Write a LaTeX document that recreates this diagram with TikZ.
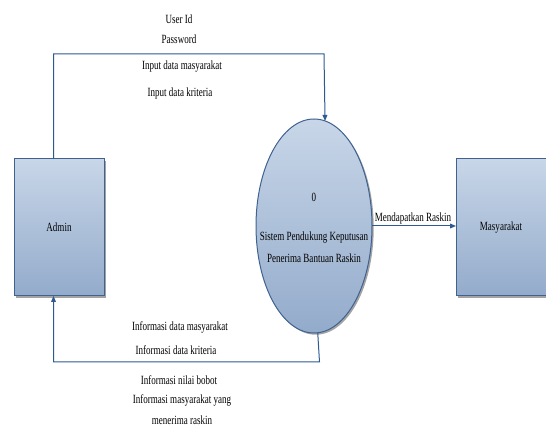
\documentclass[tikz,border=0pt]{standalone}
\usepackage{fontspec}
\setmainfont[FakeStretch=0.72]{Liberation Serif}
\usetikzlibrary{arrows.meta,shadows,shapes.geometric}
\definecolor{lineblue}{HTML}{2E5A92}
\definecolor{boxborder}{HTML}{3F6290}
\definecolor{filltop}{HTML}{C8D6E8}
\definecolor{fillbot}{HTML}{93ABCB}
\begin{document}
\begin{tikzpicture}[x=0.75pt,y=0.75pt,
  every node/.style={font=\fontsize{9.4pt}{15pt}\selectfont, inner sep=0pt, outer sep=0pt},
  entity/.style={draw=boxborder, line width=0.75pt, top color=filltop, bottom color=fillbot,
    minimum width=67.5pt, minimum height=102.75pt,
    drop shadow={shadow xshift=1.3pt, shadow yshift=-1.3pt, fill=black!45, opacity=0.8}},
  process/.style={ellipse, draw=boxborder, line width=0.75pt, top color=filltop, bottom color=fillbot,
    minimum width=87pt, minimum height=160.5pt,
    drop shadow={shadow xshift=1.3pt, shadow yshift=-1.3pt, fill=black!45, opacity=0.8}},
  flow/.style={draw=lineblue, line width=0.75pt, -{Triangle[length=4.5pt,width=3.6pt]}},
  lbl/.style={text=black}]
\useasboundingbox (0,0) rectangle (546,427);
% entities and process
\node[entity] (admin) at (59,199.5) {Admin};
\node[entity, minimum width=70.5pt] (masy) at (503,199.5) {\hspace*{-3pt}Masyarakat};
\node[process] (proc) at (314,201) {};
\node[lbl] (pnum) at (314,230) {0};
\node[lbl] (pname1) at (314,189) {Sistem Pendukung Keputusan};
\node[lbl] (pname2) at (314,169) {Penerima Bantuan Raskin};
% coordinates for flow bends
\coordinate (t1) at (53.5,373);
\coordinate (t2) at (324,373);
\coordinate (b1) at (53.5,65);
\coordinate (b2) at (319.5,65);
% flows
\draw[flow] (admin.north -| t1) -- (t1) -- (t2) -- (proc.84.6);
\draw[flow] (proc.272.96) -- (b2) -- (b1) -- (admin.south -| b1);
\draw[flow] (proc.east) -- (proc.east -| masy.west);
% labels
\node[lbl] (l1) at (179,408) {User Id};
\node[lbl] (l2) at (179,388) {Password};
\node[lbl] (l3) at (182,360) {Input data masyarakat};
\node[lbl] (l4) at (180,334) {Input data kriteria};
\node[lbl, anchor=south] (l5) at (413,203) {Mendapatkan Raskin};
\node[lbl] (l6) at (180,100) {Informasi data masyarakat};
\node[lbl] (l7) at (176,77) {Informasi data kriteria};
\node[lbl] (l8) at (179,47) {Informasi nilai bobot};
\node[lbl] (l9) at (182,27) {Informasi masyarakat yang};
\node[lbl] (l10) at (182,7) {menerima raskin};
\end{tikzpicture}
\end{document}
